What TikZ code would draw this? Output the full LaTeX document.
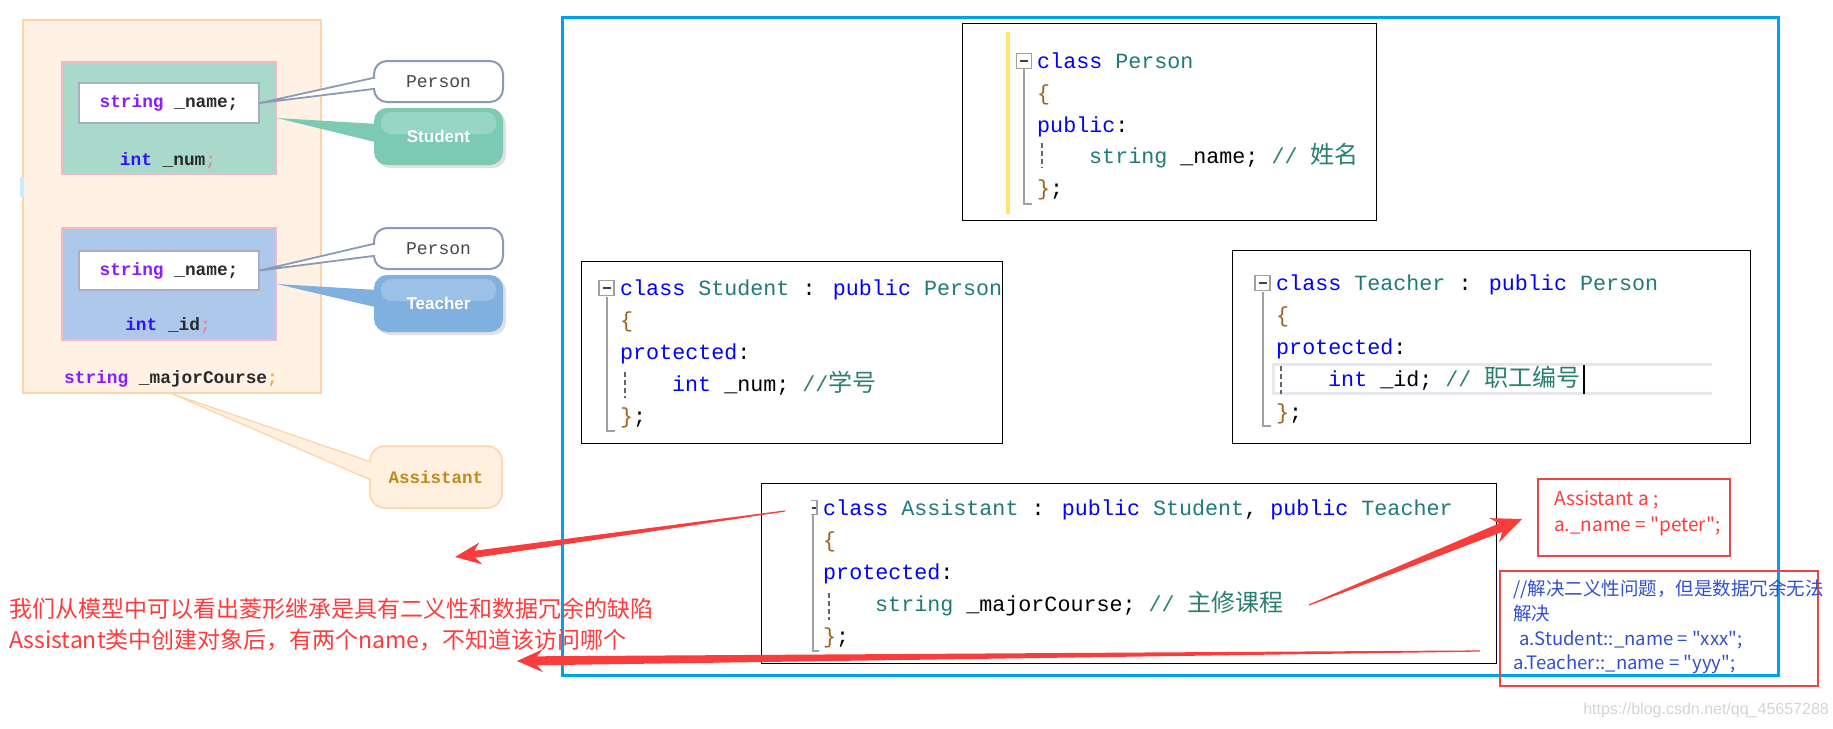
\documentclass[tikz,border=0pt]{standalone}
\usepackage{fontspec}
\setmainfont{Liberation Sans}
\newfontfamily\cjk{Noto Sans CJK SC}
\newfontfamily\cmono{Liberation Mono}
\usetikzlibrary{calc}
\newcommand{\fsz}[1]{\fontsize{#1}{#1}\selectfont}
\definecolor{frameblue}{HTML}{00A2E8}
\definecolor{arrred}{HTML}{F93C3C}
\definecolor{boxred}{HTML}{EE4444}
\definecolor{kw}{HTML}{0000FF}
\definecolor{ty}{HTML}{1F7A7A}
\definecolor{cm}{HTML}{2A8070}
\definecolor{br}{HTML}{A0601A}
\definecolor{gut}{HTML}{A0A0A0}
\definecolor{orfill}{HTML}{FFF1E4}
\definecolor{ordraw}{HTML}{FFD3A6}
\definecolor{assfill}{HTML}{FFF0E0}
\definecolor{grfill}{HTML}{A9D9CB}
\definecolor{blfill}{HTML}{ADC8EA}
\definecolor{pinkb}{HTML}{F3B8C8}
\definecolor{wbord}{HTML}{A8B0C0}
\definecolor{callgray}{HTML}{8C9AB5}
\definecolor{stufill}{HTML}{7CCAB4}
\definecolor{teafill}{HTML}{7FB0E0}
\definecolor{vio}{HTML}{8A1CFF}
\definecolor{intblue}{HTML}{3311FF}
\definecolor{dk}{HTML}{2A2A2A}
\definecolor{semi}{HTML}{E08A9A}
\definecolor{semiy}{HTML}{E6B440}
\definecolor{asstxt}{HTML}{BF8A20}
\definecolor{notered}{HTML}{FF3B3B}
\definecolor{noteblue}{HTML}{3050D0}
\definecolor{yellowbar}{HTML}{FFE570}
\definecolor{hiline}{HTML}{E6E6EE}
\definecolor{tabcyan}{HTML}{C5F0FB}
\newcommand{\codeln}[4]{\node[codetext] (#1) at (#2,#3) {#4};}
\newcommand{\taper}[7]{%
  \coordinate (hb) at ($(#2)!#3!(#1)$);
  \coordinate (hj) at ($(#2)!#4!(#1)$);
  \fill[arrred] ($(#1)!#7!90:(#2)$) -- ($(hj)!#6!90:(#2)$) -- ($(hb)!#5!90:(#2)$) -- (#2)
    -- ($(hb)!#5!-90:(#2)$) -- ($(hj)!#6!-90:(#2)$) -- ($(#1)!#7!-90:(#2)$) -- cycle;}
\tikzset{
  codetext/.style={anchor=base west, inner sep=0pt, font=\cmono\fsz{21.7}},
  codebox/.style={draw=black, line width=1pt, fill=white, inner sep=0pt},
  foldbox/.style={draw=gut, line width=1.6pt, fill=white, minimum size=15pt, inner sep=0pt,
    path picture={\draw[line width=2pt,black!75] ($(path picture bounding box.west)+(3.5,0)$) -- ($(path picture bounding box.east)+(-3.5,0)$);}},
  gutter/.style={draw=gut, line width=2pt},
  guide/.style={draw=black!60, line width=1.5pt, dash pattern=on 5pt off 3pt},
  lefttext/.style={inner sep=0pt, font=\cmono\bfseries\fsz{17.8}},
  callbase/.style={minimum width=129pt, inner sep=0pt, rounded corners=13pt},
  personcall/.style={callbase, minimum height=41pt, draw=callgray, line width=2pt, fill=white, font=\cmono\fsz{18}, text=black!72},
  gloss/.style={path picture={\fill[white,opacity=0.22,rounded corners=10pt] ($(path picture bounding box.north west)+(7,4)$) rectangle ($(path picture bounding box.north east)+(-7,26)$);}},
  colorcall/.style={callbase, minimum height=57pt, gloss, font=\bfseries\fsz{17}, text=white},
  redbox/.style={draw=boxred, line width=1.2pt, inner sep=0pt},
  redtxt/.style={anchor=base west, inner sep=0pt, font=\cjk\fsz{19}, text=notered},
  bluetxt/.style={anchor=base west, inner sep=0pt, font=\cjk\fsz{18.5}, text=noteblue},
  bignote/.style={anchor=base west, inner sep=0pt, font=\cjk\fsz{23}, text=notered},
}
\begin{document}
\begin{tikzpicture}[x=1pt,y=-1pt]
\useasboundingbox (0,0) rectangle (1833,728);
\fill[white] (0,0) rectangle (1833,728);

% ---------- left model ----------
\node[draw=ordraw, fill=orfill, line width=1.5pt, minimum width=298pt, minimum height=373pt, inner sep=0pt] (outer) at (172,206.5) {};
\node[fill=tabcyan, minimum width=4pt, minimum height=20pt, inner sep=0pt] (tab) at (21.5,187) {};
\node[fill=grfill, draw=pinkb, line width=1.2pt, minimum width=214pt, minimum height=112pt, inner sep=0pt] (stubox) at (169,118) {};
\node[fill=blfill, draw=pinkb, line width=1.2pt, minimum width=214pt, minimum height=112pt, inner sep=0pt] (teabox) at (169,284) {};
\node[lefttext, fill=white, draw=wbord, line width=1.5pt, minimum width=180pt, minimum height=40pt] (sname) at (169,103) {\color{vio}string \color{dk}\_name;};
\node[lefttext, fill=white, draw=wbord, line width=1.5pt, minimum width=180pt, minimum height=39pt] (tname) at (169,270.5) {\color{vio}string \color{dk}\_name;};
\node[lefttext] (snum) at (168,161) {\color{intblue}int \color{dk}\_num\color{semi};};
\node[lefttext] (tid) at (168,326) {\color{intblue}int \color{dk}\_id\color{semi};};
\node[lefttext, anchor=west] (major) at (64,379) {\color{vio}string \color{dk}\_majorCourse\color{semiy};};

% callouts
\fill[black!12, rounded corners=13pt] (377,111) rectangle (506,168);
\fill[black!12, rounded corners=13pt] (377,278) rectangle (506,335);
\node[personcall] (p1) at (438.5,81.5) {Person};
\node[colorcall, fill=stufill] (stu) at (438.5,136.5) {Student};
\node[personcall] (p2) at (438.5,248.5) {Person};
\node[colorcall, fill=teafill] (tea) at (438.5,303.5) {Teacher};
\node[callbase, minimum width=132pt, minimum height=62pt, rounded corners=15pt, fill=assfill, draw=ordraw, line width=1.5pt, font=\cmono\bfseries\fsz{17.5}, text=asstxt] (ass) at (436,477) {Assistant};

% pointers
\filldraw[fill=white, draw=callgray, line width=1.8pt, line join=round] (sname.east) -- ($(p1.north west)+(0,18)$) -- ($(p1.north west)+(0,29)$) -- cycle;
\fill[white] ($(p1.north west)+(-1.2,19.3)$) rectangle ($(p1.north west)+(2.5,27.7)$);
\fill[stufill] (stubox.east) -- ($(stu.north west)+(0.5,16)$) -- ($(stu.north west)+(0.5,34)$) -- cycle;
\filldraw[fill=white, draw=callgray, line width=1.8pt, line join=round] (tname.east) -- ($(p2.north west)+(0,17)$) -- ($(p2.north west)+(0,29)$) -- cycle;
\fill[white] ($(p2.north west)+(-1.2,18.3)$) rectangle ($(p2.north west)+(2.5,27.7)$);
\fill[teafill] (teabox.east) -- ($(tea.north west)+(0.5,15)$) -- ($(tea.north west)+(0.5,32)$) -- cycle;
\filldraw[fill=assfill, draw=ordraw, line width=1.2pt, line join=round] (outer.south) -- ($(ass.north west)+(0,16)$) -- ($(ass.north west)+(0,34)$) -- cycle;
\fill[assfill] ($(ass.north west)+(-1,17.2)$) rectangle ($(ass.north west)+(2.5,32.8)$);

% ---------- blue frame ----------
\node[draw=frameblue, line width=3pt, minimum width=1216pt, minimum height=658pt, inner sep=0pt] (frame) at (1170,346) {};

% ---------- Person code ----------
\node[codebox, minimum width=414pt, minimum height=197pt] (personbox) at (1169,121.5) {};
\fill[yellowbar] (1006,32) rectangle (1010,214);
\draw[gutter] (1024,69) -- (1024,204) -- (1032,204);
\node[foldbox] (pf) at (1024,61) {};
\draw[guide] (1042,143) -- (1042,168);
\codeln{pl1}{1037}{68.5}{\color{kw}class \color{ty}Person}
\codeln{pl2}{1037}{100.2}{\color{br}\{}
\codeln{pl3}{1037}{132}{\color{kw}public\color{black}:}
\codeln{pl4}{1089}{163.7}{\color{ty}string \color{black}\_name; \color{cm}// {\cjk\fsz{24}姓名}}
\codeln{pl5}{1037}{195.5}{\color{br}\}\color{black};}

% ---------- Student code ----------
\node[codebox, minimum width=421pt, minimum height=182pt] (stubox2) at (791.5,352) {};
\draw[gutter] (607,297) -- (607,431) -- (615,431);
\node[foldbox] (sf) at (606.5,288) {};
\draw[guide] (625,372) -- (625,398);
\codeln{sl1}{620}{295.5}{\color{kw}class \color{ty}Student \color{black}: \color{kw}public \color{ty}Person}
\codeln{sl2}{620}{327.5}{\color{br}\{}
\codeln{sl3}{620}{359.5}{\color{kw}protected\color{black}:}
\codeln{sl4}{672}{391.5}{\color{kw}int \color{black}\_num; \color{cm}//{\cjk\fsz{24}学号}}
\codeln{sl5}{620}{423.5}{\color{br}\}\color{black};}

% ---------- Teacher code ----------
\node[codebox, minimum width=518pt, minimum height=193pt] (teabox2) at (1491,346.5) {};
\draw[hiline, line width=3pt] (1712,364.5) -- (1273.5,364.5) -- (1273.5,393.5) -- (1712,393.5);
\draw[gutter] (1263,292) -- (1263,426) -- (1271,426);
\node[foldbox] (tf) at (1262.5,283) {};
\draw[guide] (1281,366) -- (1281,394);
\codeln{tl1}{1276}{290.5}{\color{kw}class \color{ty}Teacher \color{black}: \color{kw}public \color{ty}Person}
\codeln{tl2}{1276}{322.5}{\color{br}\{}
\codeln{tl3}{1276}{354.5}{\color{kw}protected\color{black}:}
\codeln{tl4}{1328}{386}{\color{kw}int \color{black}\_id; \color{cm}// {\cjk\fsz{24}职工编号}}
\codeln{tl5}{1276}{419}{\color{br}\}\color{black};}
\draw[black, line width=2pt] ($(tl4.base east)+(3,-21.5)$) -- ($(tl4.base east)+(3,7.5)$);

% ---------- Assistant code ----------
\node[codebox, minimum width=735pt, minimum height=180pt] (assbox2) at (1128.5,573) {};
\draw[gutter] (813,515) -- (813,651) -- (819,651);
\draw[draw=gut, line width=1.6pt] (811,500.5) -- (817,500.5) -- (817,514.5) -- (811,514.5);
\draw[line width=2pt, black!75] (812,507.5) -- (815.5,507.5);
\draw[guide] (829,593) -- (829,620);
\codeln{al1}{823}{515.5}{\color{kw}class \color{ty}Assistant \color{black}: \color{kw}public \color{ty}Student\color{black}, \color{kw}public \color{ty}Teacher}
\codeln{al2}{823}{547.5}{\color{br}\{}
\codeln{al3}{823}{579.5}{\color{kw}protected\color{black}:}
\codeln{al4}{875}{611.5}{\color{ty}string \color{black}\_majorCourse; \color{cm}// {\cjk\fsz{24}主修课程}}
\codeln{al5}{823}{643.5}{\color{br}\}\color{black};}

% ---------- red notes ----------
\node[redbox, minimum width=192pt, minimum height=77pt] (redA) at (1634,517.5) {};
\node[redtxt] (ra1) at (1554,505.5) {Assistant a ;};
\node[redtxt] (ra2) at (1554,531.5) {a.\_name = "peter";};
\node[redbox, minimum width=318pt, minimum height=115pt] (redB) at (1659,628.5) {};
\node[bluetxt] (rb1) at (1513,595) {//解决二义性问题，但是数据冗余无法};
\node[bluetxt] (rb2) at (1513,620) {解决};
\node[bluetxt] (rb3) at (1519,645) {a.Student::\_name = "xxx";};
\node[bluetxt] (rb4) at (1513,669) {a.Teacher::\_name = "yyy";};

\node[bignote] (n1) at (9,617) {我们从模型中可以看出菱形继承是具有二义性和数据冗余的缺陷};
\node[bignote] (n2) at (9,648) {Assistant类中创建对象后，有两个name，不知道该访问哪个};

% ---------- arrows ----------
\coordinate (a1tail) at (785,511);
\coordinate (a1tip) at (455,557);
\coordinate (a2tail) at (1309,605);
\coordinate (a2tip) at (1522,519);
\coordinate (a3tail) at (1480,651);
\coordinate (a3tip) at (517,661);
\taper{a1tail}{a1tip}{26pt}{20pt}{11pt}{3.5pt}{0.6pt}
\taper{a2tail}{a2tip}{30pt}{23pt}{13pt}{4.5pt}{0.6pt}
\taper{a3tail}{a3tip}{26pt}{20pt}{11.5pt}{4.5pt}{0.6pt}

\node[anchor=base east, inner sep=0pt, font=\fsz{16}, text=black!17] (wm) at (1829,714) {https://blog.csdn.net/qq\_45657288};
\end{tikzpicture}
\end{document}
